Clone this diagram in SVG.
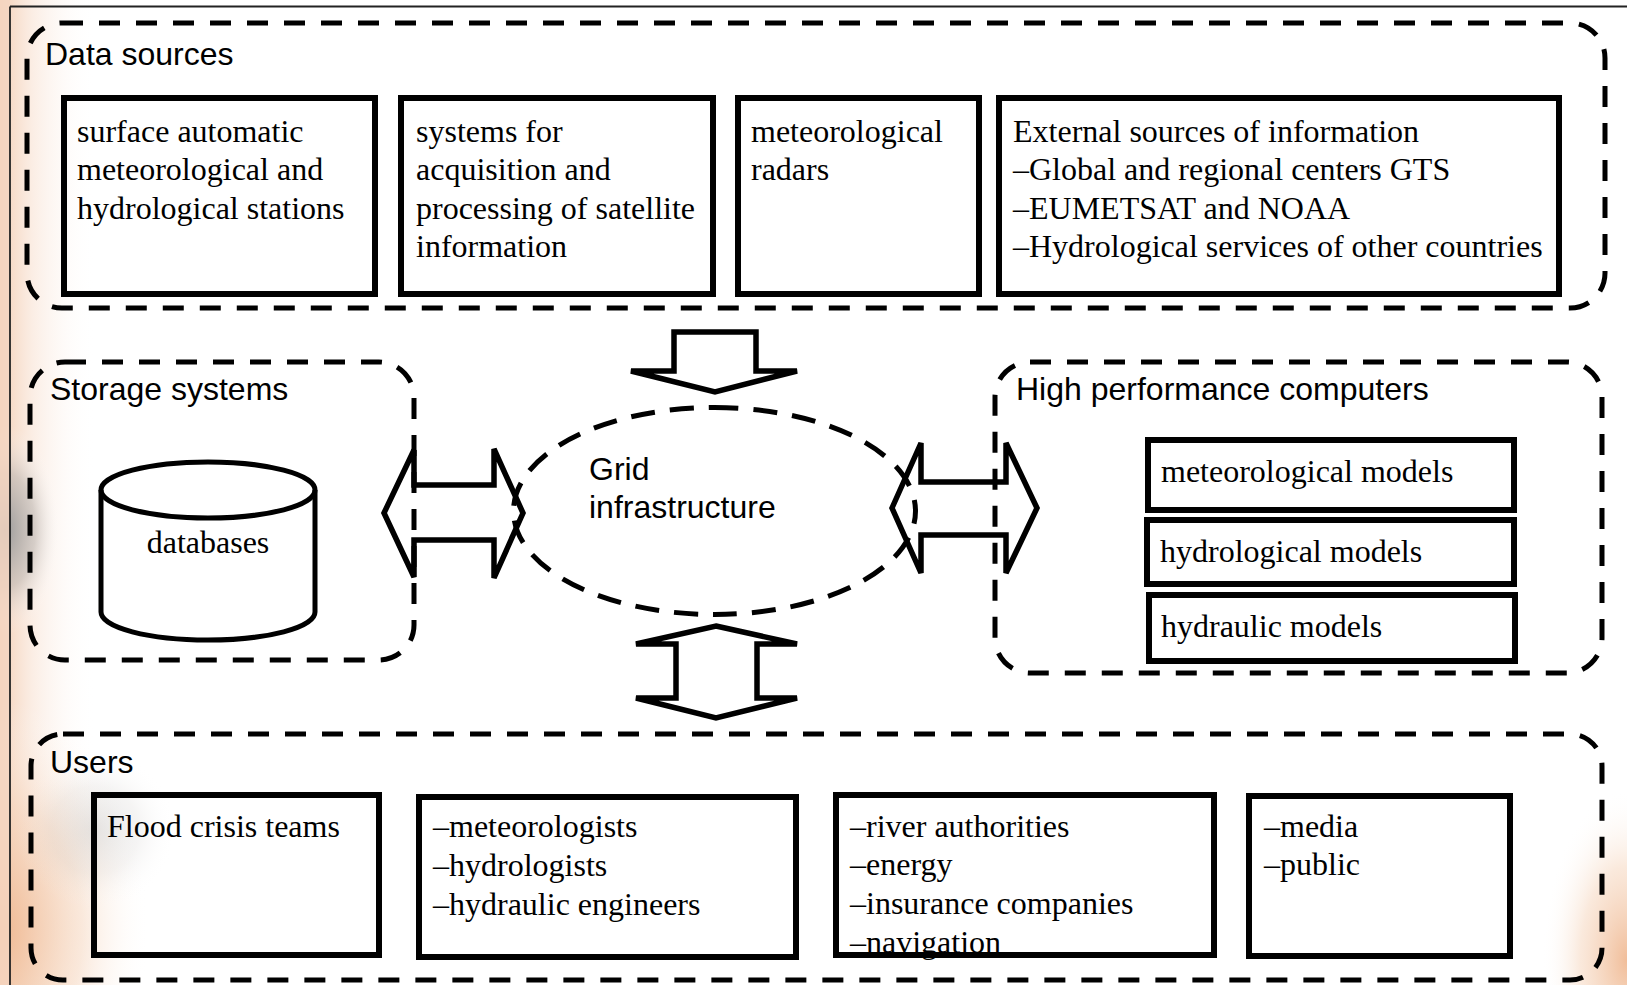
<svg xmlns="http://www.w3.org/2000/svg" width="1627" height="985" viewBox="0 0 1627 985">
<defs>
<style>
.cont{fill:none;stroke:#000;stroke-width:5;stroke-dasharray:21 16;}
.box{fill:none;stroke:#000;stroke-width:6;}
.arrow{fill:none;stroke:#000;stroke-width:5.5;stroke-linejoin:miter;stroke-miterlimit:2.2;}
.cyl{fill:none;stroke:#000;stroke-width:5;}
.sans{font-family:"Liberation Sans",Arial,sans-serif;font-size:32px;fill:#000;}
.serif{font-family:"Liberation Serif","Times New Roman",serif;font-size:32px;fill:#000;}
.frame{stroke:#222;stroke-width:1.8;fill:none;}
</style>
<linearGradient id="leftg" x1="0" y1="0" x2="1" y2="0">
<stop offset="0" stop-color="#f3cdb2" stop-opacity="0.95"/>
<stop offset="0.35" stop-color="#f8e0d0" stop-opacity="0.55"/>
<stop offset="1" stop-color="#ffffff" stop-opacity="0"/>
</linearGradient>
<radialGradient id="greyb" cx="0.5" cy="0.5" r="0.5">
<stop offset="0" stop-color="#9c9c9c" stop-opacity="1"/>
<stop offset="0.55" stop-color="#bdb8b4" stop-opacity="0.6"/>
<stop offset="1" stop-color="#ffffff" stop-opacity="0"/>
</radialGradient>
<radialGradient id="peachb" cx="0.5" cy="0.5" r="0.5">
<stop offset="0" stop-color="#efb68e" stop-opacity="0.9"/>
<stop offset="0.55" stop-color="#f5d3b9" stop-opacity="0.5"/>
<stop offset="1" stop-color="#ffffff" stop-opacity="0"/>
</radialGradient>
</defs>

<g id="background">
<rect x="0" y="0" width="1627" height="985" fill="#ffffff"/>
<rect x="0" y="0" width="95" height="985" fill="url(#leftg)"/>
<ellipse cx="0" cy="930" rx="150" ry="230" fill="url(#peachb)"/>
<ellipse cx="5" cy="530" rx="55" ry="105" fill="url(#greyb)"/>
<ellipse cx="95" cy="830" rx="80" ry="80" fill="url(#greyb)" opacity="0.25"/>
<ellipse cx="1627" cy="960" rx="85" ry="170" fill="url(#peachb)"/>
<rect x="0" y="0" width="10" height="985" fill="#f5d6c2" opacity="0.8"/>
<line class="frame" x1="10" y1="6.5" x2="1627" y2="6.5"/>
<line class="frame" x1="10" y1="6.5" x2="10" y2="985"/>
</g>

<g id="connectors">
<polygon class="arrow" points="674,332 756,332 756,371 797,371 715,392 631,371 674,371"/>
<polygon class="arrow" points="716,626 797,644 757,644 757,698 797,698 716,718 636,698 676,698 676,644 636,644"/>
<polygon class="arrow" points="384,513 414,450 414,485 494,485 494,449 523,513 494,578 494,540 414,540 414,577"/>
<polygon class="arrow" points="892,508 921,443 921,482 1006,482 1006,443 1037,508 1006,573 1006,535 921,535 921,573"/>
</g>

<g id="data-sources">
<rect class="cont" x="27" y="23" width="1578" height="285" rx="35" ry="35"/>
<text class="sans" x="45" y="65">Data sources</text>
<g id="ds-surface">
<text class="serif"><tspan x="77" y="141.5">surface automatic</tspan><tspan x="77" y="180">meteorological and</tspan><tspan x="77" y="218.5">hydrological stations</tspan></text>
<rect class="box" x="64" y="98" width="311" height="196"/>
</g>
<g id="ds-satellite">
<text class="serif"><tspan x="416" y="141.5">systems for</tspan><tspan x="416" y="180">acquisition and</tspan><tspan x="416" y="218.5">processing of satellite</tspan><tspan x="416" y="257">information</tspan></text>
<rect class="box" x="401" y="98" width="312" height="196"/>
</g>
<g id="ds-radars">
<text class="serif"><tspan x="751" y="141.5">meteorological</tspan><tspan x="751" y="180">radars</tspan></text>
<rect class="box" x="738" y="98" width="241" height="196"/>
</g>
<g id="ds-external">
<text class="serif"><tspan x="1013" y="141.5">External sources of information</tspan><tspan x="1013" y="180">–Global and regional centers GTS</tspan><tspan x="1013" y="218.5">–EUMETSAT and NOAA</tspan><tspan x="1013" y="257">–Hydrological services of other countries</tspan></text>
<rect class="box" x="999" y="98" width="560" height="196"/>
</g>
</g>

<g id="storage-systems">
<rect class="cont" x="30" y="362" width="384" height="298" rx="35" ry="35"/>
<text class="sans" x="50" y="400">Storage systems</text>
<g id="databases">
<path class="cyl" d="M101 490 L101 612 A107 28 0 0 0 315 612 L315 490"/>
<ellipse class="cyl" cx="208" cy="490" rx="107" ry="28"/>
<text class="serif" x="208" y="553" text-anchor="middle">databases</text>
</g>
</g>

<g id="grid-infrastructure">
<path class="cont" style="stroke-dasharray:24 15" d="M714.5 407.5 A201 103.5 0 1 1 714.5 614.5 A201 103.5 0 1 1 714.5 407.5 Z"/>
<text class="sans"><tspan x="589" y="480">Grid</tspan><tspan x="589" y="518">infrastructure</tspan></text>
</g>

<g id="hpc">
<rect class="cont" x="995" y="362" width="607" height="311" rx="35" ry="35"/>
<text class="sans" x="1016" y="400">High performance computers</text>
<g id="hpc-met">
<text class="serif" x="1161" y="482">meteorological models</text>
<rect class="box" x="1148" y="440" width="366" height="70"/>
</g>
<g id="hpc-hydro">
<text class="serif" x="1160" y="562">hydrological models</text>
<rect class="box" x="1147" y="520" width="367" height="64"/>
</g>
<g id="hpc-hydraulic">
<text class="serif" x="1161" y="637">hydraulic models</text>
<rect class="box" x="1149" y="595" width="366" height="66"/>
</g>
</g>

<g id="users">
<rect class="cont" x="31" y="734" width="1571" height="246" rx="32" ry="32"/>
<text class="sans" x="50" y="773">Users</text>
<g id="u-flood">
<text class="serif" x="107" y="836.5">Flood crisis teams</text>
<rect class="box" x="94" y="795" width="285" height="160"/>
</g>
<g id="u-experts">
<text class="serif"><tspan x="433" y="836.5">–meteorologists</tspan><tspan x="433" y="875.5">–hydrologists</tspan><tspan x="433" y="914.5">–hydraulic engineers</tspan></text>
<rect class="box" x="419" y="797" width="377" height="160"/>
</g>
<g id="u-authorities">
<text class="serif"><tspan x="850" y="836.5">–river authorities</tspan><tspan x="850" y="875">–energy</tspan><tspan x="850" y="913.5">–insurance companies</tspan><tspan x="850" y="952.5">–navigation</tspan></text>
<rect class="box" x="836" y="795" width="378" height="160"/>
</g>
<g id="u-media">
<text class="serif"><tspan x="1264" y="836.5">–media</tspan><tspan x="1264" y="875">–public</tspan></text>
<rect class="box" x="1249" y="796" width="261" height="160"/>
</g>
</g>
</svg>
